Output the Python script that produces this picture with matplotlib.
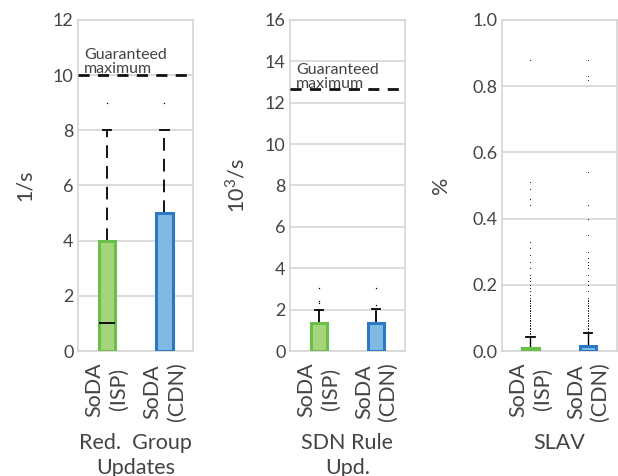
import numpy as np
import matplotlib
matplotlib.use("Agg")
import matplotlib.pyplot as plt

# Box statistics (q1 = whisker low = 0)
labels = ["SoDA\n(ISP)", "SoDA\n(CDN)"]

rgu_q3 = [4.0, 5.0]
rgu_med = [1.0, 5.0]
rgu_whishi = [8.0, 8.0]
rgu_fliers = [[9.0], [9.0]]

sdn_q3 = [1.35, 1.35]
sdn_med = [0.0, 0.0]
sdn_whishi = [2.0, 2.05]
sdn_fliers = [[2.3, 2.4, 3.05], [2.2, 3.05]]

slav_q3 = [0.01, 0.015]
slav_med = [0.0, 0.0]
slav_whishi = [0.042, 0.055]
slav_fliers = [
    [0.05, 0.055, 0.06, 0.065, 0.07, 0.075, 0.08, 0.085, 0.09, 0.095, 0.10,
     0.105, 0.11, 0.115, 0.12, 0.125, 0.13, 0.135, 0.14, 0.145, 0.15, 0.155,
     0.16, 0.17, 0.18, 0.19, 0.20, 0.21, 0.22, 0.23, 0.25, 0.27, 0.29, 0.31,
     0.33, 0.44, 0.46, 0.49, 0.51, 0.88],
    [0.06, 0.065, 0.07, 0.075, 0.08, 0.085, 0.09, 0.095, 0.10, 0.105, 0.11,
     0.115, 0.12, 0.125, 0.13, 0.135, 0.14, 0.145, 0.15, 0.155, 0.16, 0.18,
     0.20, 0.21, 0.23, 0.25, 0.26, 0.27, 0.28, 0.30, 0.35, 0.40, 0.44, 0.54,
     0.82, 0.83, 0.88],
]

guaranteed_max = [10.0, 12.65, None]
ylims = [12, 16, 1.0]
yticks = [np.arange(0, 13, 2), np.arange(0, 17, 2), np.arange(0, 1.01, 0.2)]
ylabels = ["1/s", "$10^3$/s", "%"]
xlabels = ["Red.  Group\nUpdates", "SDN Rule\nUpd.", "SLAV"]
ylabel_x = [-0.37, -0.36, -0.44]

fill_colors = ["#a6d47b", "#80b9e4"]
edge_colors = ["#6abf4b", "#2b79c3"]
text_col = "#444444"

plt.rcParams["font.family"] = ["Lato", "DejaVu Sans"]
plt.rcParams["mathtext.fontset"] = "custom"
plt.rcParams["mathtext.rm"] = "Lato"

fig, axes = plt.subplots(1, 3, figsize=(6.18, 4.76), dpi=100)
fig.subplots_adjust(left=0.126, right=0.9985, top=0.958, bottom=0.2626, wspace=0.835)

groups = [
    (rgu_q3, rgu_med, rgu_whishi, rgu_fliers),
    (sdn_q3, sdn_med, sdn_whishi, sdn_fliers),
    (slav_q3, slav_med, slav_whishi, slav_fliers),
]

for i, ax in enumerate(axes):
    q3s, meds, whis, fl = groups[i]
    stats = []
    for j in range(2):
        stats.append(dict(q1=0.0, med=meds[j], q3=q3s[j], whislo=0.0,
                          whishi=whis[j], fliers=fl[j], label=labels[j]))
    bp = ax.bxp(stats, positions=[1, 2], widths=0.28, patch_artist=True,
                showfliers=True,
                whiskerprops=dict(color="black", linestyle=(0, (7, 4.5)), linewidth=1.3),
                capprops=dict(color="black", linewidth=1.3),
                medianprops=dict(color="black", linewidth=1.3),
                flierprops=dict(marker=".", markersize=1.5 if i == 2 else 2,
                                markerfacecolor="black", markeredgecolor="none"))
    for j, box in enumerate(bp["boxes"]):
        box.set_facecolor(fill_colors[j])
        box.set_edgecolor(edge_colors[j])
        box.set_linewidth(2.2)
        box.set_zorder(3)
    for j, m in enumerate(bp["medians"]):
        m.set_zorder(4)
        # median hidden when it sits on a box edge
        if meds[j] in (0.0, q3s[j]):
            m.set_visible(False)
    # lower whiskers / caps sit at zero
    for k in range(2):
        bp["whiskers"][2 * k].set_visible(False)
        bp["caps"][2 * k].set_visible(False)
    if i == 2:
        for w in bp["whiskers"]:
            w.set_linestyle("-")
            w.set_linewidth(1.0)

    ax.set_xlim(0.5, 2.5)
    ax.set_ylim(0, ylims[i])
    ax.set_yticks(yticks[i])
    if i == 2:
        ax.set_yticklabels([f"{v:.1f}" for v in yticks[i]])
    ax.yaxis.grid(True, color="#d5d5d5", linewidth=1.2, zorder=0)
    ax.set_axisbelow(True)
    for s in ax.spines.values():
        s.set_color("#d5d5d5")
        s.set_linewidth(1.2)
    ax.tick_params(axis="y", length=0, labelsize=13, colors=text_col, pad=3)
    ax.tick_params(axis="x", length=0, labelsize=15.5, colors=text_col, pad=8)
    ax.set_xticks([1, 2])
    ax.set_xticklabels(labels, rotation=90, linespacing=1.25)
    ax.set_ylabel(ylabels[i], fontsize=15.5, color=text_col)
    ax.yaxis.set_label_coords(ylabel_x[i], 0.5)
    ax.set_xlabel(xlabels[i], fontsize=15.5, color=text_col, linespacing=1.3, labelpad=9)

    if guaranteed_max[i] is not None:
        ax.axhline(guaranteed_max[i], color="#111111", linestyle=(0, (4, 3)),
                   linewidth=2.0, zorder=5)
        ax.text(0.055, guaranteed_max[i] - 0.004 * ylims[i], "Guaranteed\nmaximum",
                transform=ax.get_yaxis_transform(), fontsize=11.5, color=text_col,
                va="bottom", ha="left", linespacing=1.0)

fig.savefig("out.png", dpi=100)
